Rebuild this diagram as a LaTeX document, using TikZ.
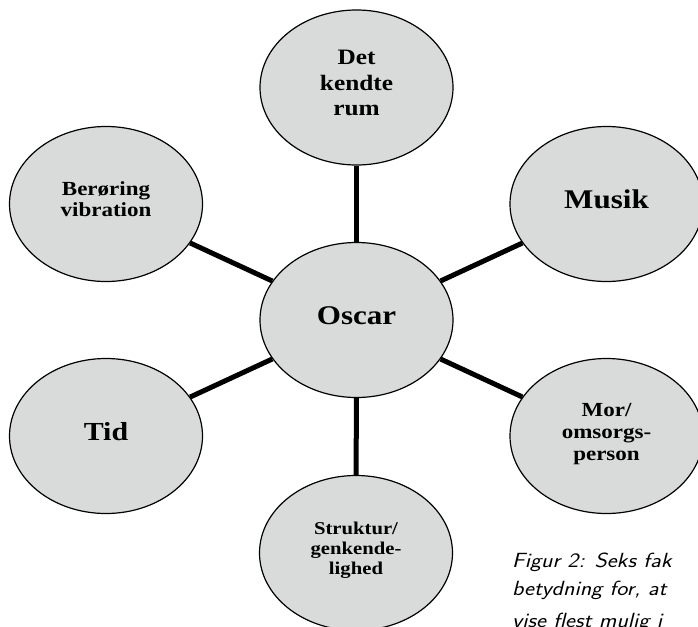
\documentclass[tikz,border=0pt]{standalone}
\usepackage{fontspec}
\setmainfont{Liberation Serif}[FakeStretch=1.15]
\setsansfont{Latin Modern Sans}[FakeStretch=1.15]
\usepackage{tikz}
\usepackage{xcolor}
\usetikzlibrary{shapes,positioning,backgrounds}

\definecolor{ovalfill}{RGB}{217,219,219}
\tikzset{
    oval/.style={ellipse, draw=black, line width=1.2pt, fill=ovalfill,
        minimum width=193pt, minimum height=155pt, inner sep=0pt,
        align=center, execute at end node={\rule[-9pt]{0pt}{0pt}}},
    spoke/.style={line width=5pt},
    captext/.style={anchor=base west, inner sep=0pt,
        font=\sffamily\itshape\fontsize{20.5}{28}\selectfont}
}

\begin{document}
\begin{tikzpicture}[x=1pt, y=-1pt]
            \useasboundingbox (0,0) rectangle (698,626);
            \clip (0,0) rectangle (698,626);
            % ovals
            \node[oval, font=\bfseries\fontsize{27}{30}\selectfont] (oscar) at (356.5,320) {Oscar};
            \node[oval, font=\bfseries\fontsize{22}{25.5}\selectfont] (rum) at (356.5,87.5) {Det\\kendte\\rum};
            \node[oval, font=\bfseries\fontsize{27}{30}\selectfont] (musik) at (606.5,204) {Musik};
            \node[oval, font=\bfseries\fontsize{20}{22}\selectfont] (mor) at (606.5,436) {Mor/\\omsorgs-\\person};
            \node[oval, font=\bfseries\fontsize{18}{20}\selectfont] (struktur) at (356,553) {Struktur/\\genkende-\\lighed};
            \node[oval, font=\bfseries\fontsize{26}{30}\selectfont] (tid) at (106,436) {Tid};
            \node[oval, font=\bfseries\fontsize{20}{21}\selectfont] (beroering) at (106,204) {Berøring\\vibration};
            % spokes
            \foreach \n in {rum, musik, mor, struktur, tid, beroering}
                \draw[spoke] (oscar) -- (\n);
            % caption
            \node[captext] (cap1) at (512,567) {Figur 2: Seks fak};
            \node[captext] (cap2) at (512,595.5) {betydning for, at};
            \node[captext] (cap3) at (512,627) {vise flest mulig i};
        \end{tikzpicture}
\end{document}
